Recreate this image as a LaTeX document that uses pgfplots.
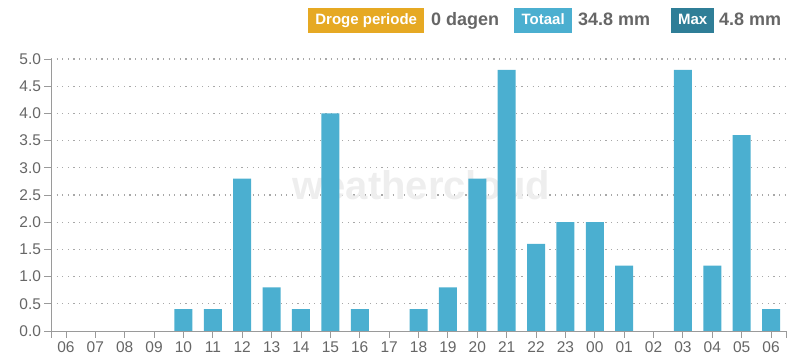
\documentclass[border=0pt]{standalone}
\usepackage{pgfplots}
\pgfplotsset{compat=1.18}
\usepackage{fontspec}
\setmainfont{Liberation Sans}
\definecolor{barc}{HTML}{4BAFD0}
\definecolor{orangeb}{HTML}{E6A923}
\definecolor{tealb}{HTML}{2F7E97}
\definecolor{txt}{HTML}{666666}
\definecolor{axisc}{HTML}{9A9A9A}
\definecolor{wm}{HTML}{EEEEEE}
\definecolor{gridc}{HTML}{A8A8A8}
\begin{document}
\begin{tikzpicture}
\begin{axis}[
  set layers,
  at={(0,0)}, anchor=south west,
  scale only axis, width=735bp, height=272bp,
  xmin=-0.51, xmax=24.51, ymin=0, ymax=5,
  axis x line*=bottom, axis y line*=left,
  axis line style={axisc, line width=0.9pt},
  tick style={axisc, line width=0.9pt},
  tick align=outside, major tick length=6.5bp,
  ytick={0.5,1,...,5},
  extra y ticks={0}, extra y tick style={grid=none},
  yticklabel style={/pgf/number format/.cd, fixed, fixed zerofill, precision=1},
  /pgf/number format/assume math mode=true,
  ticklabel style={text=txt, font=\fontsize{15.5bp}{15.5bp}\selectfont},
  xticklabel style={yshift=-1bp},
  xtick={0,...,24},
  xticklabels={06,07,08,09,10,11,12,13,14,15,16,17,18,19,20,21,22,23,00,01,02,03,04,05,06},
  extra x ticks={-0.51,24.51}, extra x tick labels={},
  extra x tick style={grid=none},
  ymajorgrids, grid style={gridc, line width=1.1bp, dash pattern=on 1.2bp off 4.4bp},
  ybar, bar width=18bp,
]
\node[on layer=axis background, text=wm, font=\bfseries\fontsize{40bp}{40bp}\selectfont] at (axis cs:12.1,2.68) {weathercloud};
\addplot[fill=barc, draw=none] coordinates {
(0,0) (1,0) (2,0) (3,0) (4,0.4) (5,0.4) (6,2.8) (7,0.8) (8,0.4) (9,4.0)
(10,0.4) (11,0) (12,0.4) (13,0.8) (14,2.8) (15,4.8) (16,1.6) (17,2.0)
(18,2.0) (19,1.2) (20,0) (21,4.8) (22,1.2) (23,3.6) (24,0.4)};
\end{axis}
\tikzset{box/.style={anchor=west, text=white, font=\bfseries\fontsize{15bp}{15bp}\selectfont, inner sep=0pt, minimum height=25bp, text height=11bp, text depth=3bp},
 val/.style={anchor=west, text=txt, font=\bfseries\fontsize{18bp}{18bp}\selectfont, inner sep=0pt, text height=13bp, text depth=3bp}}
\node[box, fill=orangeb, minimum width=116bp] at (257bp,310bp) {Droge periode};
\node[val] at (380bp,310bp) {0 dagen};
\node[box, fill=barc, minimum width=58bp] at (463bp,310bp) {Totaal};
\node[val] at (527bp,310bp) {34.8 mm};
\node[box, fill=tealb, minimum width=43bp] at (620bp,310bp) {Max};
\node[val] at (668bp,310bp) {4.8 mm};
\pgfresetboundingbox
\useasboundingbox (-51bp,-30bp) rectangle (754bp,331bp);
\end{tikzpicture}
\end{document}
